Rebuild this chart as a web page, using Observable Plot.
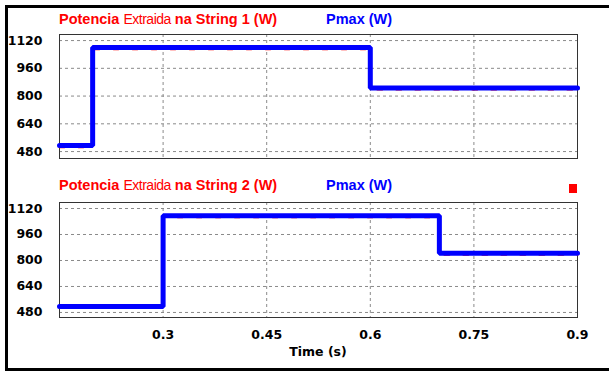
<!DOCTYPE html>
<html>
<head>
<meta charset="utf-8">
<script src="https://cdn.jsdelivr.net/npm/d3@7"></script>
<script src="https://cdn.jsdelivr.net/npm/@observablehq/plot@0.6"></script>
<style>
  html, body { margin: 0; padding: 0; background: #fff; }
  #wrap { position: relative; width: 609px; height: 377px; overflow: hidden; background: #fff; }
  #box { position: absolute; left: 5px; top: 5px; width: 610px; height: 366px; box-sizing: border-box;
         border-left: 3px solid #000; border-top: 3px solid #000; border-bottom: 3px solid #000; }
  .plot { position: absolute; left: 0; }
  .title { position: absolute; left: 59px; font-family: "Liberation Sans", Arial, sans-serif; font-size: 14.5px;
           font-weight: bold; color: #ff0000; white-space: nowrap; line-height: 1; }
  .title .n { font-weight: normal; font-size: 14px; letter-spacing: -0.5px; }
  .pmax { position: absolute; left: 326px; font-family: "Liberation Sans", Arial, sans-serif; font-size: 14.5px;
          font-weight: bold; color: #0000ff; white-space: nowrap; line-height: 1; }
  #xlabel { position: absolute; left: 0; width: 636px; text-align: center; top: 346px;
            font-family: "DejaVu Sans", sans-serif; font-weight: bold; font-size: 12.5px; line-height: 1; }
  #marker { position: absolute; left: 569px; top: 184px; width: 8px; height: 9px; background: #ff0000; }
</style>
</head>
<body>
<div id="wrap">
  <div id="box"></div>
  <div id="p1" class="plot" style="top:0px"></div>
  <div id="p2" class="plot" style="top:168px"></div>
  <div class="title" style="top:12px">Potencia <span class="n">Extraida</span> na String 1 (W)</div>
  <div class="pmax" style="top:12px">Pmax (W)</div>
  <div class="title" style="top:178px">Potencia <span class="n">Extraida</span> na String 2 (W)</div>
  <div class="pmax" style="top:178px">Pmax (W)</div>
  <div id="marker"></div>
  <div id="xlabel">Time (s)</div>
</div>
<script>
// Time axis
const xDomain = [0.15, 0.9];
const xTicks = [0.3, 0.45, 0.6, 0.75, 0.9];
const xGrid = [0.3, 0.45, 0.6, 0.75];
const yTicks = [480, 640, 800, 960, 1120];

// String 1 (step changes)
const t1 = [0.15, 0.198, 0.6, 0.9];
const pmax1 = [515, 1080, 846, 846];
const pext1 = [505, 1070, 838, 838];

// String 2 (step changes)
const t2 = [0.15, 0.3, 0.7, 0.9];
const pmax2 = [517, 1076, 845, 845];
const pext2 = [507, 1066, 836, 836];

function makePlot(t, pmax, pext, yDomain, opts) {
  const blue = t.map((d, i) => ({t: d, v: pmax[i]}));
  const red = t.map((d, i) => ({t: d, v: pext[i]}));
  return Plot.plot({
    width: 609,
    height: opts.height,
    marginLeft: 59,
    marginRight: 32,
    marginTop: 34,
    marginBottom: opts.marginBottom,
    style: {fontFamily: "DejaVu Sans, sans-serif", fontSize: "12.5px", fontWeight: "bold", color: "#000", background: "transparent", overflow: "visible"},
    x: {domain: xDomain, ticks: xTicks, tickSize: 0, tickPadding: 13, tickFormat: d => String(d), label: null, axis: opts.showX ? "bottom" : null},
    y: {domain: yDomain, ticks: yTicks, tickSize: 0, tickPadding: 17, tickFormat: d => String(d), label: null},
    marks: [
      Plot.ruleY(yTicks, {stroke: "#8a8a8a", strokeDasharray: "3,3", strokeWidth: 1}),
      Plot.ruleX(xGrid, {stroke: "#8a8a8a", strokeDasharray: "3,3", strokeWidth: 1}),
      Plot.frame({stroke: "#333", strokeWidth: 1}),
      Plot.line(red, {x: "t", y: "v", curve: "step-after", stroke: "#ff0000", strokeWidth: 2, strokeDasharray: "5,14"}),
      Plot.line(blue, {x: "t", y: "v", curve: "step-after", stroke: "#0000ff", strokeWidth: 5, strokeLinejoin: "miter"})
    ]
  });
}

document.getElementById("p1").appendChild(makePlot(t1, pmax1, pext1, [440, 1155], {height: 160, marginBottom: 2, showX: false}));
document.getElementById("p2").appendChild(makePlot(t2, pmax2, pext2, [449, 1157], {height: 199, marginBottom: 50, showX: true}));
</script>
</body>
</html>
